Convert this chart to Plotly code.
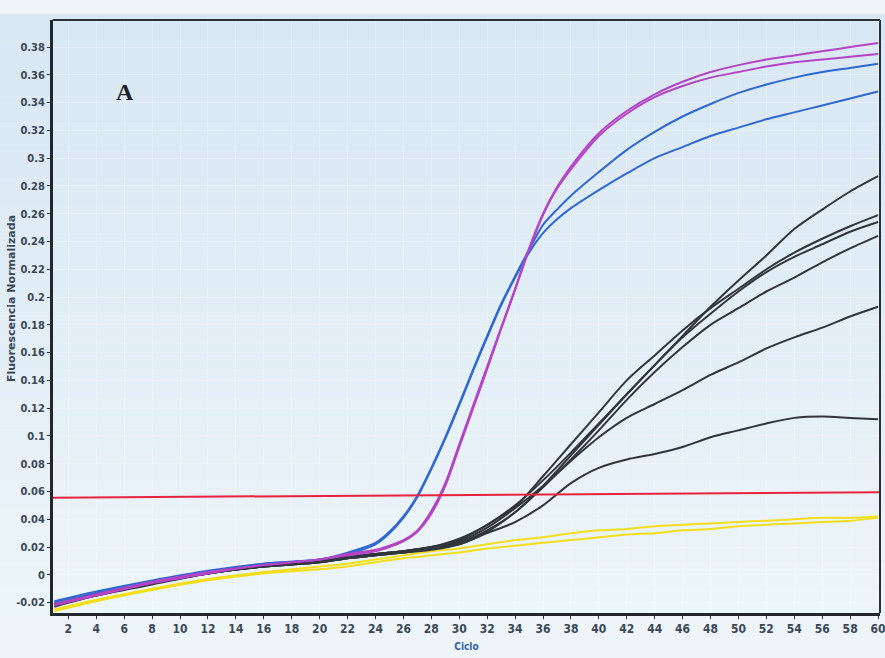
import plotly.graph_objects as go

# Amplification curves: normalised fluorescence per cycle
cycles = [1, 4, 8, 12, 16, 20, 22, 24, 26, 28, 30, 32, 34, 36, 38, 40,
          42, 44, 46, 48, 50, 52, 54, 56, 58, 60]
# Denser sampling for the early, steep amplifications
cycles_fast = [1, 4, 8, 12, 16, 20, 22, 24, 25, 26, 27, 28, 29, 30, 31, 32, 33, 34, 35, 36, 37, 38,
               40, 42, 44, 46, 48, 50, 52, 54, 56, 58, 60]

magenta_1 = [-0.021, -0.014, -0.005, 0.002, 0.007, 0.011, 0.015, 0.018, 0.021, 0.025, 0.032, 0.046, 0.066,
             0.094, 0.122, 0.150, 0.178, 0.206, 0.235, 0.260, 0.279, 0.294,
             0.318, 0.334, 0.346, 0.355, 0.362, 0.367, 0.371, 0.374, 0.377, 0.380, 0.383]
magenta_2 = [-0.022, -0.015, -0.006, 0.001, 0.007, 0.011, 0.014, 0.017, 0.020, 0.024, 0.031, 0.044, 0.064,
             0.092, 0.120, 0.148, 0.177, 0.205, 0.234, 0.259, 0.278, 0.292,
             0.316, 0.332, 0.344, 0.352, 0.358, 0.362, 0.366, 0.369, 0.371, 0.373, 0.375]
blue_1 = [-0.019, -0.012, -0.004, 0.003, 0.008, 0.011, 0.016, 0.023, 0.031, 0.042, 0.057, 0.077, 0.099,
          0.123, 0.148, 0.172, 0.195, 0.215, 0.234, 0.252, 0.263, 0.273,
          0.290, 0.306, 0.319, 0.330, 0.339, 0.347, 0.353, 0.358, 0.362, 0.365, 0.368]
blue_2 = [-0.020, -0.013, -0.005, 0.002, 0.008, 0.011, 0.015, 0.022, 0.030, 0.041, 0.056, 0.076, 0.098,
          0.122, 0.147, 0.171, 0.194, 0.214, 0.232, 0.246, 0.256, 0.264,
          0.277, 0.289, 0.300, 0.308, 0.316, 0.322, 0.328, 0.333, 0.338, 0.343, 0.348]

black_1 = [-0.020, -0.013, -0.005, 0.002, 0.007, 0.010, 0.013, 0.015, 0.017, 0.020, 0.026, 0.036, 0.050,
           0.068, 0.088, 0.109, 0.130, 0.151, 0.172, 0.193, 0.212, 0.230, 0.249, 0.263, 0.276, 0.287]
black_2 = [-0.021, -0.014, -0.006, 0.001, 0.006, 0.010, 0.012, 0.015, 0.017, 0.020, 0.025, 0.036, 0.049,
           0.071, 0.094, 0.117, 0.140, 0.158, 0.176, 0.192, 0.206, 0.220, 0.232, 0.242, 0.251, 0.259]
black_3 = [-0.022, -0.014, -0.006, 0.001, 0.006, 0.009, 0.012, 0.014, 0.016, 0.019, 0.023, 0.032, 0.045,
           0.064, 0.086, 0.108, 0.130, 0.151, 0.171, 0.188, 0.204, 0.218, 0.229, 0.238, 0.247, 0.254]
black_4 = [-0.023, -0.015, -0.007, 0.001, 0.006, 0.009, 0.012, 0.014, 0.016, 0.018, 0.022, 0.031, 0.045,
           0.063, 0.083, 0.104, 0.126, 0.146, 0.164, 0.180, 0.192, 0.204, 0.214, 0.225, 0.235, 0.244]
black_5 = [-0.021, -0.014, -0.006, 0.001, 0.006, 0.010, 0.013, 0.015, 0.017, 0.020, 0.024, 0.034, 0.048,
           0.064, 0.082, 0.099, 0.113, 0.123, 0.133, 0.144, 0.153, 0.163, 0.171, 0.178, 0.186, 0.193]
black_6 = [-0.022, -0.015, -0.006, 0.001, 0.006, 0.009, 0.012, 0.014, 0.016, 0.019, 0.022, 0.030, 0.038,
           0.050, 0.066, 0.077, 0.083, 0.087, 0.092, 0.099, 0.104, 0.109, 0.113, 0.114, 0.113, 0.112]

yellow_1 = [-0.025, -0.018, -0.010, -0.003, 0.002, 0.006, 0.008, 0.011, 0.014, 0.017, 0.019, 0.022, 0.025,
            0.027, 0.030, 0.032, 0.033, 0.035, 0.036, 0.037, 0.038, 0.039, 0.040, 0.041, 0.041, 0.042]
yellow_2 = [-0.026, -0.019, -0.011, -0.004, 0.001, 0.004, 0.006, 0.009, 0.012, 0.014, 0.016, 0.019, 0.021,
            0.023, 0.025, 0.027, 0.029, 0.030, 0.032, 0.033, 0.035, 0.036, 0.037, 0.038, 0.039, 0.041]

# Threshold line (slightly tilted as exported by the instrument)
threshold_x = [0.9, 60.14]
threshold_y = [0.0555, 0.0595]

x_ticks = list(range(2, 61, 2))
y_ticks = [-0.02, 0, 0.02, 0.04, 0.06, 0.08, 0.1, 0.12, 0.14, 0.16, 0.18, 0.2,
           0.22, 0.24, 0.26, 0.28, 0.3, 0.32, 0.34, 0.36, 0.38]
y_tick_text = ["-0.02", "0", "0.02", "0.04", "0.06", "0.08", "0.1", "0.12", "0.14", "0.16", "0.18",
               "0.2", "0.22", "0.24", "0.26", "0.28", "0.3", "0.32", "0.34", "0.36", "0.38"]

YELLOW = "#f2de1a"
BLACK = "#30363c"
BLUE = "#2f68d2"
MAGENTA = "#b444c6"

series = [
    (cycles, yellow_1, YELLOW), (cycles, yellow_2, YELLOW),
    (cycles, black_1, BLACK), (cycles, black_2, BLACK), (cycles, black_3, BLACK),
    (cycles, black_4, BLACK), (cycles, black_5, BLACK), (cycles, black_6, BLACK),
    (cycles_fast, blue_1, BLUE), (cycles_fast, blue_2, BLUE),
    (cycles_fast, magenta_1, MAGENTA), (cycles_fast, magenta_2, MAGENTA),
]

fig = go.Figure()
for xs, values, color in series:
    fig.add_trace(go.Scatter(
        x=xs, y=values, mode="lines",
        line=dict(color=color, width=2, shape="spline", smoothing=0.8),
        hoverinfo="skip", showlegend=False,
    ))

fig.add_trace(go.Scatter(
    x=threshold_x, y=threshold_y, mode="lines",
    line=dict(color="#e8233f", width=2), hoverinfo="skip", showlegend=False,
))

# Soft vertical background gradient behind the whole figure
shapes = []
n_bands = 24
top_rgb = (216, 231, 244)
bot_rgb = (238, 246, 249)
for i in range(n_bands):
    t = i / (n_bands - 1)
    r = round(top_rgb[0] + (bot_rgb[0] - top_rgb[0]) * t)
    g = round(top_rgb[1] + (bot_rgb[1] - top_rgb[1]) * t)
    b = round(top_rgb[2] + (bot_rgb[2] - top_rgb[2]) * t)
    shapes.append(dict(
        type="rect", xref="paper", yref="paper", layer="below",
        x0=-0.1, x1=1.1,
        y0=1.01 - (i + 1) * 1.11 / n_bands, y1=1.01 - i * 1.11 / n_bands,
        fillcolor=f"rgb({r},{g},{b})", line=dict(width=0),
    ))
# Thin frame closing the plot area on top and right
shapes.append(dict(type="line", xref="paper", yref="paper", x0=0, x1=1, y0=1, y1=1,
                   line=dict(color="#2b3036", width=2)))
shapes.append(dict(type="line", xref="paper", yref="paper", x0=1, x1=1, y0=0, y1=1,
                   line=dict(color="#2b3036", width=2)))

tick_font = dict(family="Liberation Sans Narrow, DejaVu Sans Condensed, Roboto", size=11,
                 color="#3a4756", weight="bold")

fig.update_layout(
    width=885, height=658,
    margin=dict(l=53, r=5, t=20, b=45, autoexpand=False),
    paper_bgcolor="#eef4f8",
    plot_bgcolor="rgba(0,0,0,0)",
    shapes=shapes,
    annotations=[
        dict(text="A", x=0.087, y=0.879, xref="paper", yref="paper", showarrow=False,
             xanchor="center", yanchor="middle",
             font=dict(family="Liberation Serif, DejaVu Serif", size=24, color="#1d2226",
                       weight="bold")),
        dict(text="Fluorescencia Normalizada", x=-0.0508, y=0.531, xref="paper", yref="paper",
             showarrow=False, textangle=-90, xanchor="center", yanchor="middle",
             font=dict(family="DejaVu Sans, Roboto", size=11, color="#3a4756", weight="bold")),
    ],
    xaxis=dict(
        range=[0.9, 60.14], tickmode="array", tickvals=x_ticks,
        ticks="outside", ticklen=3, tickcolor="#2b3036", tickwidth=1,
        tickfont=dict(tick_font, size=12), ticklabeloverflow="allow", automargin=False,
        showline=True, linecolor="#22272c", linewidth=3,
        showgrid=True, gridcolor="rgba(255,255,255,0.28)", gridwidth=1,
        zeroline=False,
        title=dict(text="Ciclo", standoff=8,
                   font=dict(family="DejaVu Sans Condensed, Roboto", size=10,
                             color="#3563a8", weight="bold")),
    ),
    yaxis=dict(
        range=[-0.0275, 0.3995], tickmode="array", tickvals=y_ticks, ticktext=y_tick_text,
        ticks="outside", ticklen=3, tickcolor="#2b3036", tickwidth=1,
        tickfont=tick_font, automargin=False,
        showline=True, linecolor="#22272c", linewidth=3,
        showgrid=True, gridcolor="rgba(255,255,255,0.28)", gridwidth=1,
        zeroline=False,
    ),
)

fig.write_html("out.html")
